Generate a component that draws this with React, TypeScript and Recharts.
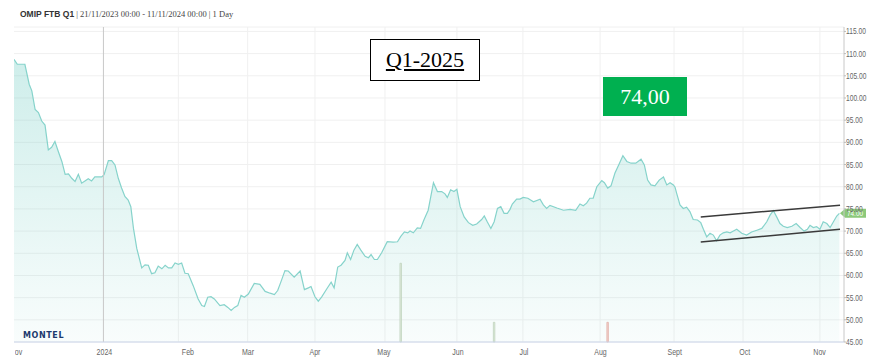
import {
  ComposedChart,
  Area,
  Bar,
  Cell,
  XAxis,
  YAxis,
  CartesianGrid,
  ReferenceLine,
} from 'recharts'

// ─── Data (x = trading-day index since 21/11/2023) ─────────
const tradingDay = [
  0, 1, 3.3, 4.6, 5.4, 6.4, 7.4, 8.4, 9.4, 10.4, 11.4, 12.4, 13.4, 14.5, 15.5, 16.5, 17.5, 18.5, 19.5, 20.5,
  21.5, 22.5, 23.5, 24.5, 26.6, 27.3, 28.6, 29.6, 30.6, 31.6, 32.6, 33.6, 34.6, 35.4, 36.2, 37.2, 38.7, 39.7,
  40.7, 41.7, 42.7, 43.7, 44.8, 45.8, 46.8, 47.8, 48.8, 49.8, 50.8, 51.8, 52.8, 54.3, 55.8, 56.9, 57.7, 58.7,
  59.7, 60.7, 62.4, 63.7, 64.8, 65.8, 66.8, 67.8, 68.8, 69.8, 71.0, 72.8, 74.5, 76.1, 77.6, 78.9, 79.9, 81.1,
  82.1, 83.1, 84.9, 86.7, 88.0, 89.2, 90.0, 91.2, 92.2, 93.2, 94.8, 96.1, 97.0, 98.1, 99.1, 100.3, 101.0,
  102.0, 103.0, 104.0, 105.1, 106.4, 107.4, 108.2, 109.2, 110.1, 111.4, 113.1, 114.9, 116.2, 117.2, 118.3,
  119.3, 120.0, 121.0, 122.2, 123.2, 124.2, 125.5, 127.1, 128.3, 129.6, 130.6, 131.3, 132.3, 133.3, 134.2,
  135.2, 136.4, 137.7, 139.0, 140.2, 141.7, 142.5, 143.4, 144.5, 145.5, 146.5, 147.5, 148.5, 149.5, 150.3,
  151.0, 152.3, 153.3, 154.3, 155.7, 157.4, 159.4, 160.4, 161.4, 162.4, 164.5, 166.5, 168.5, 170.2, 171.5,
  172.5, 173.5, 174.5, 175.5, 176.6, 178.1, 178.9, 179.9, 180.9, 182.1, 183.4, 184.5, 185.7, 187.0, 188.4,
  190.0, 191.0, 192.0, 193.0, 194.2, 195.5, 196.8, 197.8, 198.8, 199.8, 200.3, 200.8, 201.8, 202.8, 203.8,
  204.8, 205.8, 207.1, 208.1, 208.9, 209.9, 210.9, 211.9, 212.9, 213.9, 214.9, 216.0, 217.0, 218.0, 219.0,
  220.5, 222.0, 223.5, 225.1, 226.6, 228.1, 229.1, 230.1, 231.1, 232.1, 233.1, 234.3, 235.7, 237.0, 238.2,
  239.4, 240.4, 241.2, 242.2, 243.2, 244.2, 245.2, 246.3, 247.3, 248.3, 249.3, 250.1,
]

const price = [
  108.7, 107.6, 107.6, 103.1, 101.6, 97.4, 96.7, 94.8, 93.9, 88.3, 88.9, 90.2, 88.0, 85.7, 82.8, 82.9, 81.9, 81.2, 82.8, 80.8,
  81.3, 81.8, 81.3, 82.2, 82.2, 82.7, 85.9, 85.9, 84.9, 81.9, 79.7, 77.8, 77.0, 75.5, 70.6, 66.1, 61.7, 62.4,
  62.3, 60.4, 60.6, 62.1, 61.5, 62.3, 61.7, 61.7, 62.8, 62.5, 62.8, 60.5, 60.4, 57.7, 54.7, 53.2, 53.0, 55.1,
  55.2, 54.7, 53.2, 53.4, 52.8, 52.1, 52.8, 53.2, 55.5, 55.1, 55.8, 58.2, 58.0, 56.4, 56.0, 55.7, 56.6, 59.0,
  61.1, 61.0, 59.6, 61.0, 56.8, 57.2, 57.5, 55.2, 54.2, 55.1, 57.0, 58.5, 57.2, 61.9, 62.3, 63.4, 65.1,
  63.6, 65.7, 67.0, 65.7, 64.3, 64.0, 64.7, 63.6, 63.6, 65.1, 67.6, 67.5, 67.6, 68.8, 69.8,
  69.6, 70.0, 69.6, 70.7, 70.6, 72.5, 74.7, 80.9, 78.9, 78.9, 78.4, 77.6, 79.3, 78.9, 79.4,
  75.5, 73.2, 71.9, 71.3, 71.6, 72.6, 73.4, 72.1, 70.6, 72.1, 75.1, 75.5, 74.0, 74.0, 74.9,
  76.1, 77.2, 77.2, 77.6, 77.4, 76.6, 77.2, 75.9, 75.1, 75.8, 75.2, 74.7, 74.9, 74.7, 76.1,
  75.7, 76.3, 77.4, 77.4, 80.0, 81.4, 80.9, 79.7, 80.2, 83.1, 85.2, 87.0, 85.7, 85.3, 85.3,
  86.2, 84.9, 81.5, 80.4, 80.2, 81.5, 82.2, 80.4, 80.9, 80.4, 79.9, 78.5, 75.9, 75.1, 75.4,
  74.4, 72.6, 72.5, 71.9, 70.4, 68.7, 69.5, 69.1, 67.8, 69.1, 69.6, 69.8, 69.6, 70.0, 70.4,
  69.5, 69.1, 69.8, 70.2, 70.6, 72.1, 73.6, 74.6, 73.2, 71.7, 71.1, 70.8, 71.1, 71.7, 70.8,
  70.0, 70.4, 71.3, 70.8, 71.0, 70.4, 72.1, 71.7, 70.8, 72.1, 73.4, 74.0,
]

// volume bars (attached to trading days)
const volumeDay = [117.2, 145.5, 179.9]
const volume = [100, 25, 25]
const volumeSide = ['buy', 'buy', 'sell']

// ─── Axis ticks ─────────
const priceTicks = [45, 50, 55, 60, 65, 70, 75, 80, 85, 90, 95, 100, 105, 110, 115]
const monthTickDay = [0, 27.4, 52.7, 70.9, 91.2, 112.1, 134.5, 154.5, 177.7, 200.2, 221.4, 244.1]
const monthLabels = ['Nov', '2024', 'Feb', 'Mar', 'Apr', 'May', 'Jun', 'Jul', 'Aug', 'Sept', 'Oct', 'Nov']
const monthGridDay = [49.8, 70.8, 91.2, 112.4, 134.2, 154.2, 177.6, 200, 220.9, 244.2]
const yearStartDay = 27.1

// ─── Hand-drawn channel ─────────
const channelUpper = [
  { x: 208.1, y: 73.2 },
  { x: 250.3, y: 75.85 },
]
const channelLower = [
  { x: 208.1, y: 67.55 },
  { x: 250.3, y: 70.4 },
]

const rows = tradingDay.map((t, i) => {
  const v = volumeDay.indexOf(t)
  return {
    t,
    price: price[i],
    vol: v >= 0 ? volume[v] : null,
    side: v >= 0 ? volumeSide[v] : null,
  }
})
const lastPrice = price[price.length - 1]

const SANS = "'Liberation Sans', Arial, sans-serif"
const SERIF = "'Liberation Serif', 'DejaVu Serif', serif"

// labels in the original are horizontally squeezed
function MonthTick({ x, y, payload }: any) {
  const i = monthTickDay.indexOf(payload.value)
  const label = monthLabels[i] ?? ''
  const textProps = {
    fontSize: 9,
    fill: '#666',
    fontFamily: SANS,
    textAnchor: 'middle' as const,
  }
  if (i === 0) {
    // first label is cut by the plot edge
    return (
      <svg x={15} y={y} width={20} height={16} overflow="hidden">
        <text {...textProps} transform={`translate(${x - 15 + 2},11) scale(0.78,1)`}>
          {label}
        </text>
      </svg>
    )
  }
  return (
    <text {...textProps} transform={`translate(${x},${y + 11}) scale(0.78,1)`}>
      {label}
    </text>
  )
}

function PriceTick({ x, y, payload }: any) {
  return (
    <text
      transform={`translate(${x},${y + 3}) scale(0.74,1)`}
      fontSize={9}
      fill="#666"
      fontFamily={SANS}
      textAnchor="start"
    >
      {Number(payload.value).toFixed(2)}
    </text>
  )
}

function PriceTag({ viewBox, value }: any) {
  if (!viewBox) return null
  const x0 = viewBox.x + viewBox.width
  const y = viewBox.y
  return (
    <g>
      <path
        d={`M${x0 - 4},${y} L${x0 + 1},${y - 4.5} L${x0 + 22},${y - 4.5} L${x0 + 22},${y + 4.5} L${x0 + 1},${y + 4.5} Z`}
        fill="#8cc97a"
      />
      <text
        transform={`translate(${x0 + 11},${y + 2.7}) scale(0.8,1)`}
        textAnchor="middle"
        fill="#fff"
        fontSize={8}
        fontFamily={SANS}
      >
        {value}
      </text>
    </g>
  )
}

export default function App() {
  return (
    <div style={{ position: 'absolute', left: 0, top: 0, width: 870, height: 360, background: '#fff' }}>
      <ComposedChart
        width={870}
        height={360}
        data={rows}
        margin={{ top: 27, right: 0, bottom: 0, left: 14 }}
      >
        <defs>
          <linearGradient id="priceFill" x1="0" y1="0" x2="0" y2="1">
            <stop offset="0%" stopColor="#6ccbc1" stopOpacity={0.55} />
            <stop offset="100%" stopColor="#6ccbc1" stopOpacity={0.07} />
          </linearGradient>
        </defs>
        <CartesianGrid
          yAxisId="price"
          stroke="#f0f0f0"
          verticalValues={monthGridDay}
        />
        <XAxis
          dataKey="t"
          type="number"
          domain={[0, 251.5]}
          ticks={monthTickDay}
          interval={0}
          allowDataOverflow
          tick={<MonthTick />}
          tickLine={false}
          tickSize={0}
          height={18}
          axisLine={{ stroke: '#ccd6eb' }}
        />
        <YAxis
          yAxisId="price"
          orientation="right"
          width={26}
          domain={[45, 116]}
          ticks={priceTicks}
          interval={0}
          allowDataOverflow
          tick={<PriceTick />}
          tickSize={2}
          tickMargin={0}
          tickLine={{ stroke: '#bbb' }}
          axisLine={{ stroke: '#c8c8c8' }}
        />
        <YAxis yAxisId="vol" hide domain={[0, 400]} />
        <ReferenceLine yAxisId="price" x={yearStartDay} stroke="#c8c8c8" />
        <Area
          yAxisId="price"
          type="linear"
          dataKey="price"
          stroke="#86d3cb"
          strokeWidth={1.2}
          fill="url(#priceFill)"
          dot={false}
          activeDot={false}
          isAnimationActive={false}
        />
        <Bar yAxisId="vol" dataKey="vol" barSize={3} isAnimationActive={false}>
          {rows.map((r) => (
            <Cell
              key={r.t}
              fill={r.side === 'sell' ? '#f2d3ce' : '#e0ecdd'}
              stroke={r.side === 'sell' ? '#e2b0a8' : '#bfd3bc'}
              strokeWidth={0.8}
            />
          ))}
        </Bar>
        <ReferenceLine yAxisId="price" segment={channelUpper} stroke="#3a3a3a" strokeWidth={1.5} />
        <ReferenceLine yAxisId="price" segment={channelLower} stroke="#3a3a3a" strokeWidth={1.5} />
        <ReferenceLine
          yAxisId="price"
          y={lastPrice}
          stroke="none"
          label={<PriceTag value={lastPrice.toFixed(2)} />}
        />
      </ComposedChart>

      {/* header */}
      <div
        style={{
          position: 'absolute',
          left: 20,
          top: 7,
          lineHeight: '10px',
          whiteSpace: 'nowrap',
          color: '#333',
        }}
      >
        <span style={{ fontFamily: SANS, fontWeight: 'bold', fontSize: 8.5 }}>OMIP FTB Q1</span>
        <span style={{ fontFamily: SERIF, fontSize: 8.5, color: '#444' }}>
          {' | 21/11/2023 00:00 - 11/11/2024 00:00 | 1 Day'}
        </span>
      </div>

      {/* annotations */}
      <div
        style={{
          position: 'absolute',
          left: 370,
          top: 39,
          width: 110,
          height: 42,
          boxSizing: 'border-box',
          border: '1px solid #000',
          background: '#fff',
          display: 'flex',
          alignItems: 'center',
          justifyContent: 'center',
          fontFamily: SERIF,
          fontSize: 22,
          textDecoration: 'underline',
          color: '#000',
        }}
      >
        Q1-2025
      </div>
      <div
        style={{
          position: 'absolute',
          left: 603,
          top: 77,
          width: 84,
          height: 39,
          background: '#00b050',
          display: 'flex',
          alignItems: 'center',
          justifyContent: 'center',
          fontFamily: SERIF,
          fontSize: 22,
          color: '#fff',
        }}
      >
        74,00
      </div>

      {/* logo */}
      <div
        style={{
          position: 'absolute',
          left: 23,
          top: 332,
          lineHeight: '8px',
          fontFamily: "'DejaVu Sans', sans-serif",
          fontWeight: 'bold',
          fontSize: 8,
          letterSpacing: 0.6,
          color: '#1d3a6e',
        }}
      >
        MONTEL
      </div>
    </div>
  )
}
